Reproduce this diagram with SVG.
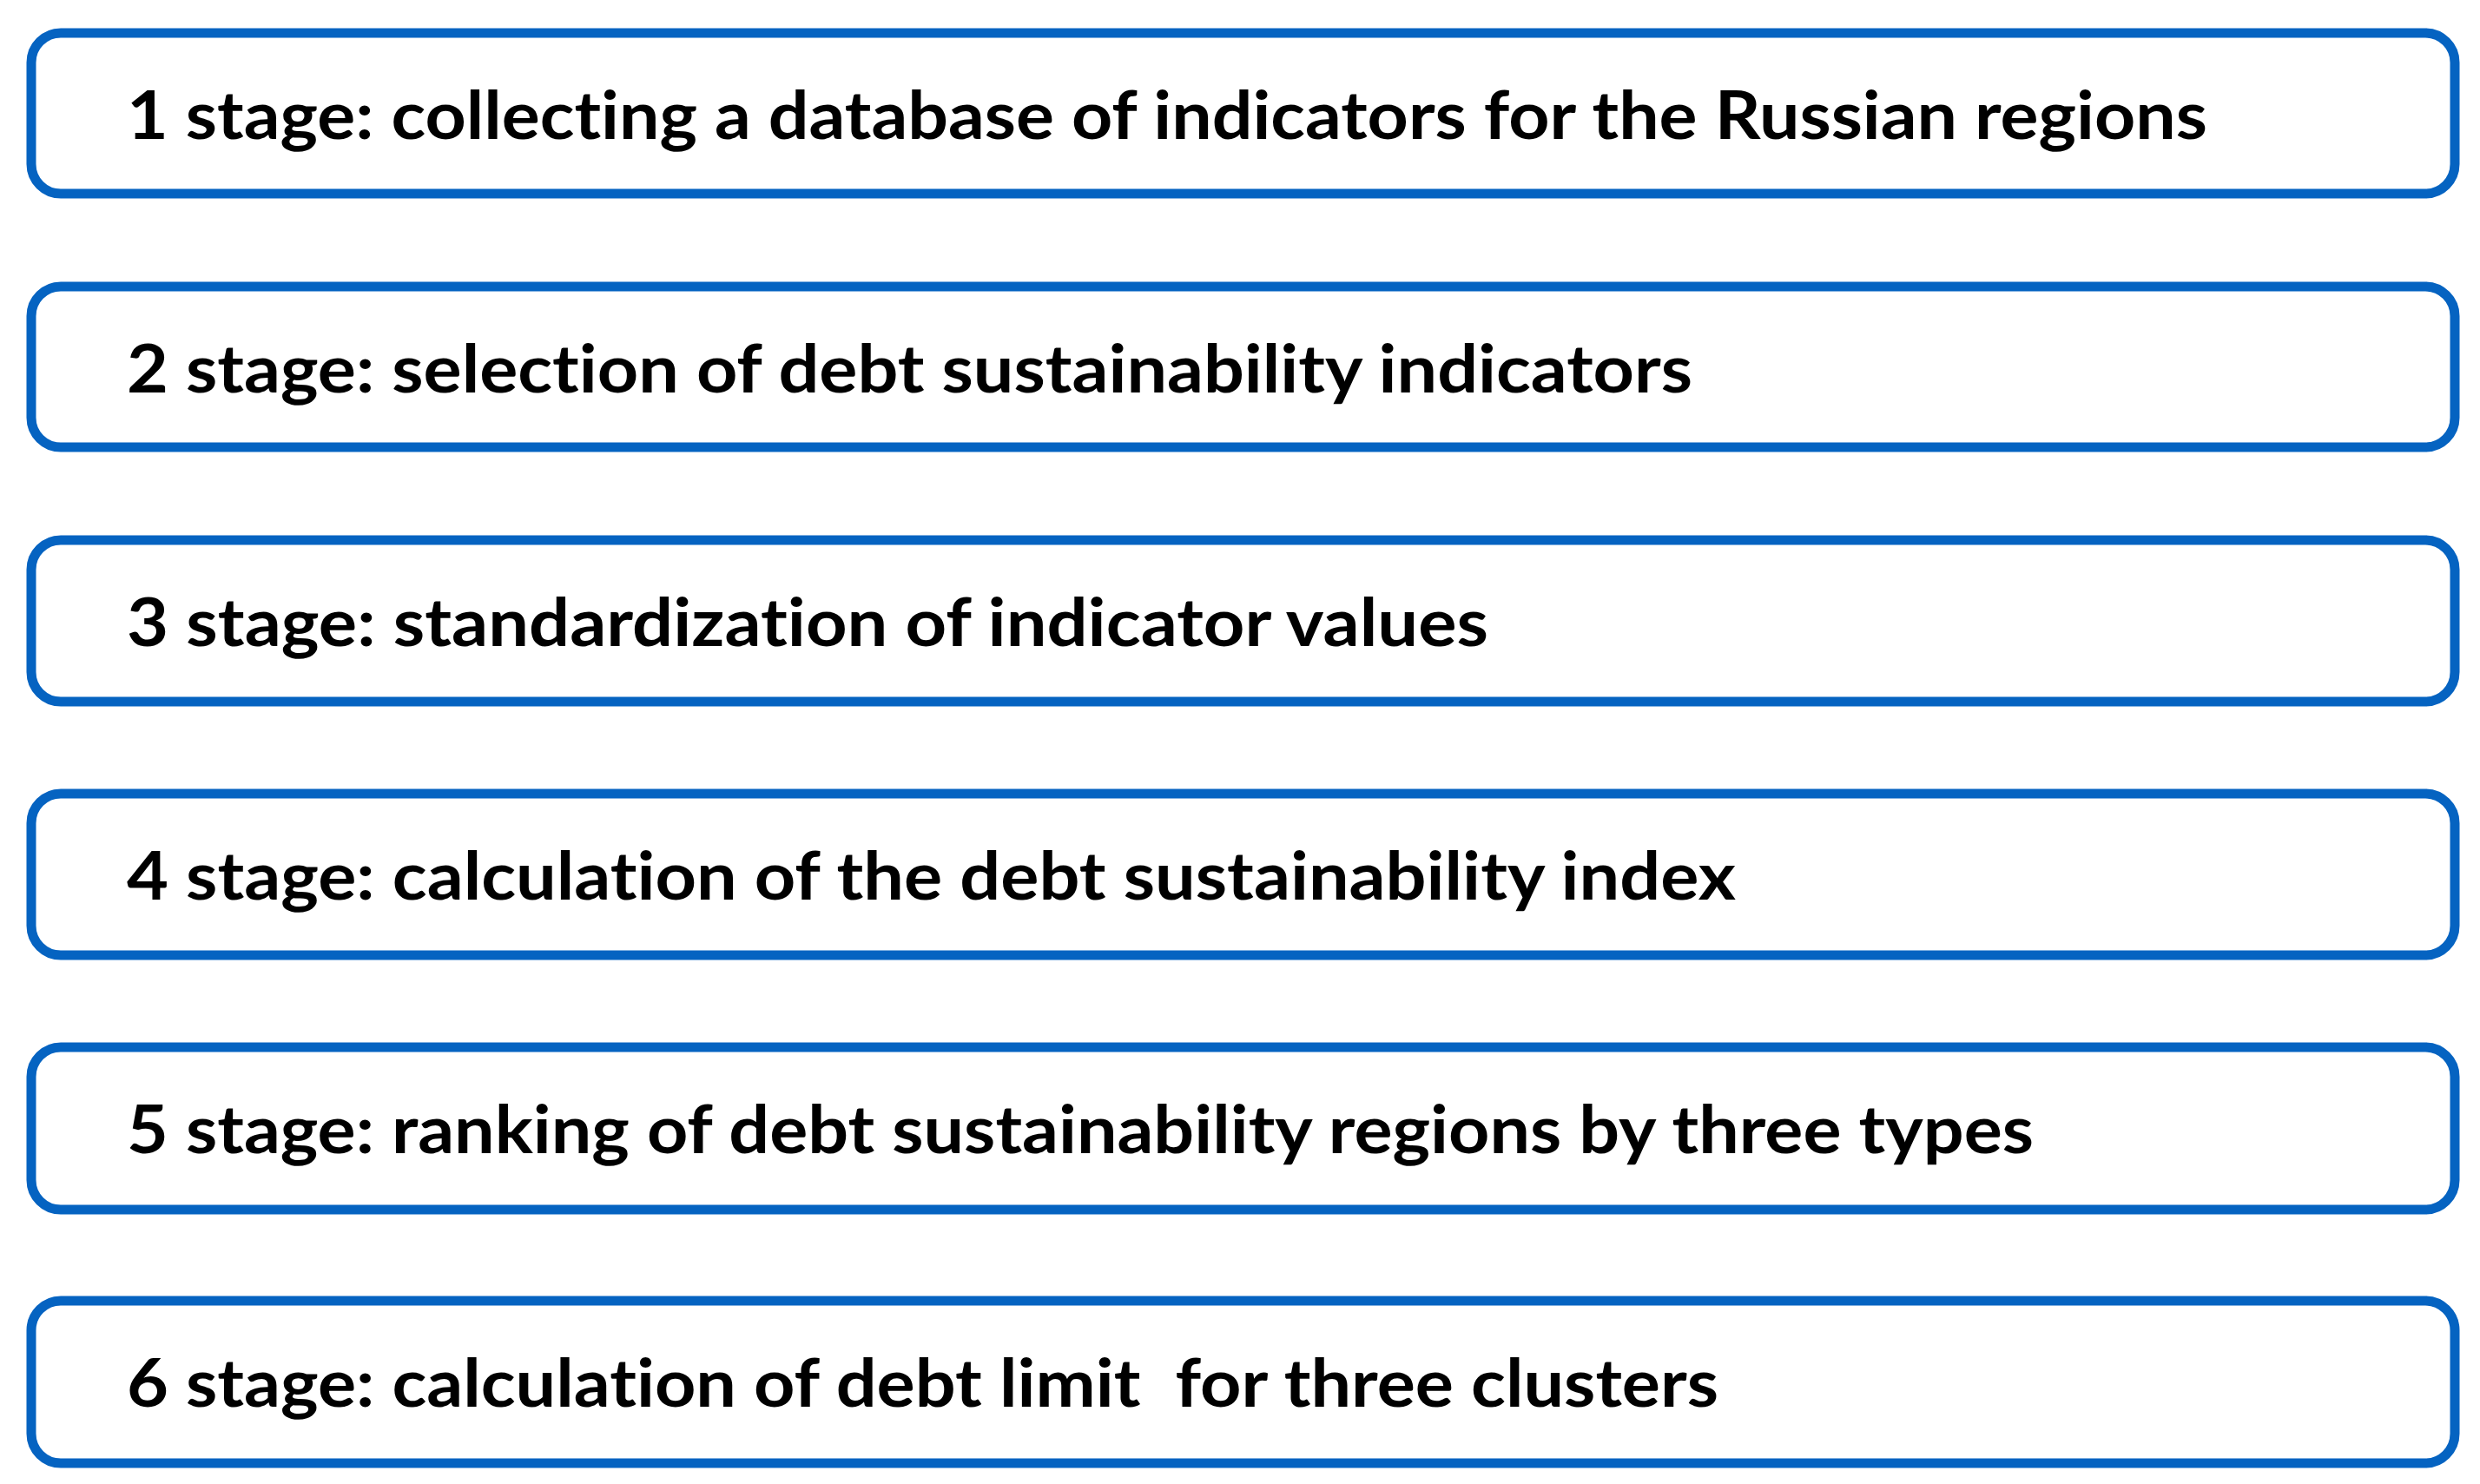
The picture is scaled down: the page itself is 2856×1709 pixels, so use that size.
<svg xmlns="http://www.w3.org/2000/svg" width="2856" height="1709" viewBox="0 0 2856 1709">
<style>
.box{fill:#ffffff;stroke:#0563c1;stroke-width:11}
.lbl{font-family:Lato,"Open Sans","Liberation Sans",sans-serif;font-weight:bold;font-size:76px;fill:#000000;white-space:pre;font-variant-ligatures:none;font-feature-settings:"liga" 0,"dlig" 0}
</style>
<rect x="0" y="0" width="2856" height="1709" fill="#ffffff"/>
<g id="node1"><rect class="box" x="36" y="38" width="2791" height="185" rx="34"/><text class="lbl" x="146" y="160" textLength="2396" lengthAdjust="spacingAndGlyphs">1 stage: collecting a database of indicators for the Russian regions</text></g>
<g id="node2"><rect class="box" x="36" y="330" width="2791" height="185" rx="34"/><text class="lbl" x="146" y="452" textLength="1803" lengthAdjust="spacingAndGlyphs">2 stage: selection of debt sustainability indicators</text></g>
<g id="node3"><rect class="box" x="36" y="622" width="2791" height="186" rx="34"/><text class="lbl" x="146" y="744" textLength="1568" lengthAdjust="spacingAndGlyphs">3 stage: standardization of indicator values</text></g>
<g id="node4"><rect class="box" x="36" y="914" width="2791" height="186" rx="34"/><text class="lbl" x="146" y="1036" textLength="1853" lengthAdjust="spacingAndGlyphs">4 stage: calculation of the debt sustainability index</text></g>
<g id="node5"><rect class="box" x="36" y="1206" width="2791" height="187" rx="34"/><text class="lbl" x="146" y="1328" textLength="2196" lengthAdjust="spacingAndGlyphs">5 stage: ranking of debt sustainability regions by three types</text></g>
<g id="node6"><rect class="box" x="36" y="1498" width="2791" height="187" rx="34"/><text class="lbl" x="146" y="1620" textLength="1833" lengthAdjust="spacingAndGlyphs">6 stage: calculation of debt limit  for three clusters</text></g>
<g id="connectors"></g>
</svg>
